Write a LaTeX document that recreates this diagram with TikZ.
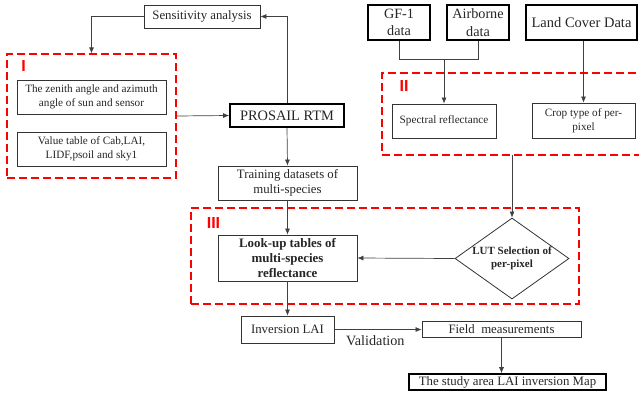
\documentclass[tikz,border=0pt]{standalone}
\usepackage{fontspec}
\setmainfont{Liberation Serif}
\newfontfamily\labfont{Liberation Sans}
\usetikzlibrary{shapes.geometric,arrows.meta}
\tikzset{
  box/.style={draw=black!80, line width=0.8pt, align=center, inner sep=1pt, text=black!85, rectangle},
  tbox/.style={box, line width=1.6pt, draw=black},
  fs/.style={font=\fontsize{11.2}{13.7}\selectfont},
  fm/.style={font=\fontsize{12.8}{14.8}\selectfont},
  fl/.style={font=\fontsize{14.2}{17.5}\selectfont},
  arr/.style={draw=black!75, line width=0.7pt, -{Latex[length=6pt,width=5pt]}},
  ln/.style={draw=black!75, line width=0.7pt},
  grp/.style={draw=red, dash pattern=on 8pt off 4pt, line width=1.2pt, rectangle, inner sep=0pt},
  grplab/.style={text=red, font=\labfont\bfseries\fontsize{16}{16}\selectfont, inner sep=0pt}
}
\begin{document}
\begin{tikzpicture}[x=1pt,y=-1pt]
\path[use as bounding box, clip] (0,0) rectangle (639,397);
\fill[white] (0,0) rectangle (639,397);
% groups
\node[grp, minimum width=169pt, minimum height=124pt] (gI) at (91.5,116) {};
\node[grplab] (lI) at (23.5,66) {I};
\node[grp, minimum width=290pt, minimum height=82pt] (gII) at (527,114) {};
\node[grplab] (lII) at (404,86) {II};
\node[grp, minimum width=388pt, minimum height=96pt] (gIII) at (385,256) {};
\node[grplab] (lIII) at (213.5,223) {III};
% nodes
\node[box, fm, minimum width=116pt, minimum height=23pt] (sens) at (202,16.5) {Sensitivity analysis};
\node[box, fs, minimum width=149pt, minimum height=34pt] (zen) at (91.5,97) {The zenith angle and azimuth\\angle of sun and sensor};
\node[box, fs, minimum width=149pt, minimum height=34pt] (val) at (91.5,149) {Value table of Cab,LAI,\\LIDF,psoil and sky1};
\node[tbox, font=\fontsize{14.4}{16}\selectfont, minimum width=114pt, minimum height=23pt] (pro) at (287,115.5) {PROSAIL RTM};
\node[box, fm, minimum width=139pt, minimum height=34pt] (train) at (287.5,183) {Training datasets of\\multi-species};
\node[box, font=\bfseries\fontsize{12.9}{14.8}\selectfont, minimum width=139pt, minimum height=46pt] (lut) at (287.5,258) {Look-up tables of\\multi-species\\reflectance};
\node[diamond, draw=black!80, line width=0.8pt, inner sep=0pt, minimum width=114pt, minimum height=81pt] (dia) at (512,258.5) {};
\node[align=center, inner sep=0pt, text=black!85, font=\bfseries\fontsize{11}{13.5}\selectfont] (dial) at (dia.center) {LUT Selection of\\per-pixel};
\node[box, fm, minimum width=93pt, minimum height=27pt] (inv) at (287.5,329.5) {Inversion LAI};
\node[box, fm, minimum width=159pt, minimum height=15.5pt] (field) at (501.5,329.5) {Field\ \ measurements};
\node[tbox, fm, minimum width=197pt, minimum height=16pt] (study) at (507.5,382) {The study area LAI inversion Map};
\node[tbox, fl, minimum width=62pt, minimum height=35pt] (gf) at (399,22.5) {GF-1\\data};
\node[tbox, fl, minimum width=62pt, minimum height=35pt] (air) at (478,22.5) {Airborne\\data};
\node[tbox, font=\fontsize{14.5}{17}\selectfont, minimum width=111pt, minimum height=35pt] (land) at (581.5,22.5) {Land Cover Data};
\node[box, fs, minimum width=104pt, minimum height=34pt] (spec) at (444,121) {Spectral reflectance};
\node[box, fs, minimum width=103pt, minimum height=35pt] (crop) at (583.5,120.5) {Crop type of per-\\pixel};
\coordinate (j) at (444,59);
\coordinate (iib) at (512,155);
% connectors
\draw[arr] (pro.north) |- (sens.east);
\draw[arr] (sens.west) -| (gI.north);
\draw[arr] (gI.east) -- (pro.west);
\draw[arr] (pro.south) -- (train.north);
\draw[arr] (train.south) -- (lut.north);
\draw[arr] (dia.west) -- (lut.east);
\draw[arr] (iib) -- (dia.north);
\draw[arr] (lut.south) -- (inv.north);
\draw[arr] (inv.east) -- node[pos=0.47, below=6pt, fl, text=black!85, inner sep=0pt] (valid) {Validation} (field.west);
\draw[arr] (field.south) -- (field.south |- study.north);
\draw[ln] (gf.south) |- (j);
\draw[ln] (air.south) |- (j);
\draw[arr] (j) -- (spec.north);
\draw[arr] (land.south -| crop.north) -- (crop.north);
\end{tikzpicture}
\end{document}
